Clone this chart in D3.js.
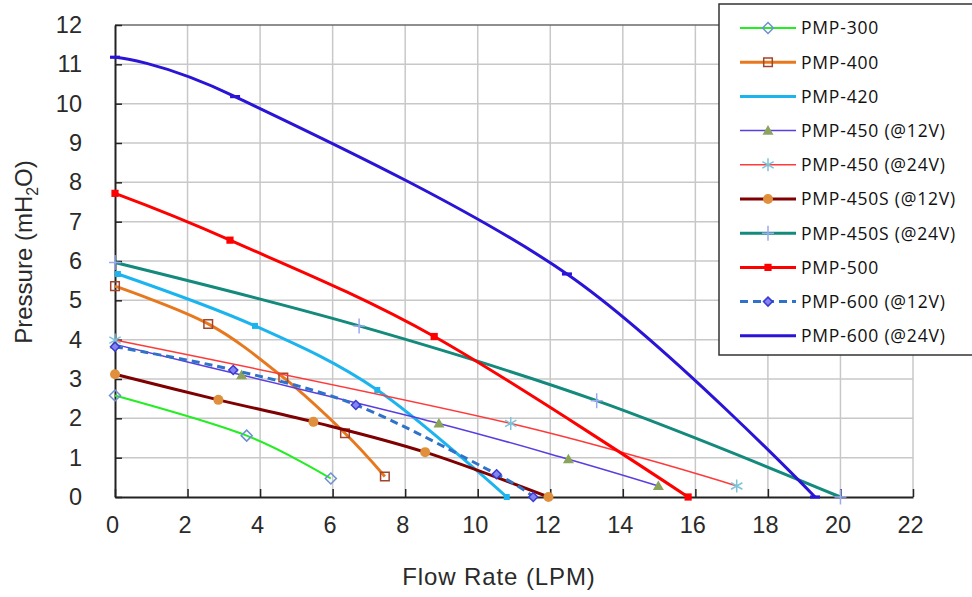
<!DOCTYPE html>
<html>
<head>
<meta charset="utf-8">
<script src="https://cdn.jsdelivr.net/npm/d3@7"></script>
<style>
  body { margin: 0; background: #fff; }
  svg { display: block; }
</style>
</head>
<body>
<div class="chart"></div>
<script>
// values (flow in LPM, pressure in mH2O)
const seriesNames = ['PMP-300', 'PMP-400', 'PMP-420', 'PMP-450 (@12V)', 'PMP-450 (@24V)',
  'PMP-450S (@12V)', 'PMP-450S (@24V)', 'PMP-500', 'PMP-600 (@12V)', 'PMP-600 (@24V)'];

const flow300 = [0, 3.63, 5.95];
const pres300 = [2.58, 1.56, 0.47];
const flow400 = [0, 2.57, 4.64, 6.34, 7.44];
const pres400 = [5.36, 4.4, 3.04, 1.62, 0.52];
const flow420 = [0.08, 3.86, 7.23, 10.8];
const pres420 = [5.67, 4.35, 2.72, 0];
const flow450_12 = [0, 3.49, 8.93, 12.5, 14.98];
const pres450_12 = [3.88, 3.1, 1.87, 0.96, 0.28];
const flow450_24 = [0, 10.91, 17.14];
const pres450_24 = [3.99, 1.87, 0.28];
const flow450S_12 = [0, 2.85, 5.47, 8.55, 11.95];
const pres450S_12 = [3.12, 2.47, 1.91, 1.14, 0];
const flow450S_24 = [0, 6.73, 13.28, 20];
const pres450S_24 = [5.96, 4.35, 2.45, 0];
const flow500 = [0, 3.17, 8.8, 15.8];
const pres500 = [7.72, 6.53, 4.08, 0];
const flow600_12 = [0, 3.26, 6.64, 10.52, 11.53];
const pres600_12 = [3.82, 3.23, 2.34, 0.58, 0];
const flow600_24 = [0, 3.31, 12.46, 19.3];
const pres600_24 = [11.18, 10.18, 5.67, 0];

const xTicks = [0, 2, 4, 6, 8, 10, 12, 14, 16, 18, 20, 22];
const yTicks = [0, 1, 2, 3, 4, 5, 6, 7, 8, 9, 10, 11, 12];

const flows = [flow300, flow400, flow420, flow450_12, flow450_24, flow450S_12, flow450S_24, flow500, flow600_12, flow600_24];
const pressures = [pres300, pres400, pres420, pres450_12, pres450_24, pres450S_12, pres450S_24, pres500, pres600_12, pres600_24];

// look of each series
const styles = [
  { color: '#22ee22', width: 2, marker: 'diamond', size: 5.5, fill: 'none', stroke: '#6f8fd0' },
  { color: '#e8781e', width: 3, marker: 'square', size: 4.3, fill: 'none', stroke: '#a2442c' },
  { color: '#1cb4ee', width: 3, marker: 'square', size: 3, fill: '#1cb4ee', stroke: 'none', noLegendMarker: true },
  { color: '#5a3ee0', width: 1.5, marker: 'triangle', size: 5.5, fill: '#8aa55a', stroke: 'none' },
  { color: '#ff3a3a', width: 1.5, marker: 'asterisk', size: 6.5, fill: 'none', stroke: '#7ec2da' },
  { color: '#7f0000', width: 3, marker: 'circle', size: 5, fill: '#e0903c', stroke: 'none' },
  { color: '#138a7c', width: 3, marker: 'plus', size: 7.5, fill: 'none', stroke: '#9aaaf0' },
  { color: '#ff0000', width: 3, marker: 'square', size: 3.6, fill: '#ff0000', stroke: 'none' },
  { color: '#2f72c8', width: 3, marker: 'diamond', size: 4.5, fill: '#8585f0', stroke: '#3a3ad0', dash: '8,5' },
  { color: '#2a14d6', width: 3, marker: 'dash', size: 5, fill: '#2a14d6', stroke: 'none', noLegendMarker: true },
];

const W = 972, H = 597;
const plot = { left: 115, right: 913, top: 25, bottom: 497 };

const svg = d3.select('.chart').append('svg')
  .attr('width', W)
  .attr('height', H)
  .style('font-family', '"Liberation Sans", Arial, sans-serif');

const x = d3.scaleLinear().domain([0, 22]).range([plot.left, plot.right]);
const y = d3.scaleLinear().domain([0, 12]).range([plot.bottom, plot.top]);

/* grid */
svg.append('g').selectAll('line')
  .data(xTicks.slice(1))
  .enter().append('line')
  .attr('x1', d => x(d)).attr('x2', d => x(d))
  .attr('y1', plot.top).attr('y2', plot.bottom)
  .attr('stroke', '#c8c8c8').attr('stroke-width', 1.5);

svg.append('g').selectAll('line')
  .data(yTicks.slice(1))
  .enter().append('line')
  .attr('x1', plot.left).attr('x2', plot.right)
  .attr('y1', d => y(d)).attr('y2', d => y(d))
  .attr('stroke', d => (d === 12 ? '#6a6a6a' : '#c8c8c8'))
  .attr('stroke-width', 1.5);

/* axes */
const xAxis = d3.axisBottom(x).tickValues(xTicks).tickSizeInner(-8).tickSizeOuter(0).tickPadding(19);
const yAxis = d3.axisLeft(y).tickValues(yTicks).tickSizeInner(-7).tickSizeOuter(0).tickPadding(33);

const xAxisGroup = svg.append('g')
  .attr('transform', `translate(0,${plot.bottom})`)
  .call(xAxis);
const yAxisGroup = svg.append('g')
  .attr('transform', `translate(${plot.left},0)`)
  .call(yAxis);

[xAxisGroup, yAxisGroup].forEach(g => {
  g.select('.domain').attr('stroke', '#222').attr('stroke-width', 2);
  g.selectAll('.tick line').attr('stroke', '#222').attr('stroke-width', 1.5);
  g.selectAll('.tick text')
    .attr('fill', '#2a2a2a')
    .style('font-family', '"Liberation Sans", Arial, sans-serif')
    .style('font-size', '23.5px');
});
xAxisGroup.selectAll('.tick text').attr('dx', -3);

svg.append('text')
  .attr('x', 499).attr('y', 585)
  .attr('text-anchor', 'middle')
  .attr('fill', '#2a2a2a')
  .style('font-size', '24px')
  .style('letter-spacing', '0.9px')
  .text('Flow Rate (LPM)');

const yLabel = svg.append('text')
  .attr('transform', 'translate(32,252) rotate(-90)')
  .attr('text-anchor', 'middle')
  .attr('fill', '#2a2a2a')
  .style('font-size', '24px');
yLabel.append('tspan').text('Pressure (mH');
yLabel.append('tspan').attr('dy', 6).style('font-size', '16px').text('2');
yLabel.append('tspan').attr('dy', -6).text('O)');

/* markers */
const markerPath = (type, r) => {
  switch (type) {
    case 'diamond': return `M0,${-r}L${r},0L0,${r}L${-r},0Z`;
    case 'square': return `M${-r},${-r}H${r}V${r}H${-r}Z`;
    case 'triangle': return `M0,${-r}L${r},${r * 0.75}L${-r},${r * 0.75}Z`;
    case 'circle': return d3.symbol(d3.symbolCircle, Math.PI * r * r)();
    case 'asterisk': {
      const a = r * 0.87, b = r * 0.5;
      return `M0,${-r}V${r}M${-a},${-b}L${a},${b}M${-a},${b}L${a},${-b}`;
    }
    case 'plus': return `M0,${-r}V${r}M${-r * 0.8},0H${r * 0.8}`;
    case 'dash': return `M${-r},-1.6H${r}V1.6H${-r}Z`;
    default: return '';
  }
};

const line = d3.line()
  .x(d => x(d[0]))
  .y(d => y(d[1]))
  .curve(d3.curveCardinal.tension(0));

const data = seriesNames.map((name, i) => ({
  name,
  style: styles[i],
  points: flows[i].map((f, j) => [f, pressures[i][j]]),
}));

const seriesGroups = svg.append('g').selectAll('g')
  .data(data)
  .enter().append('g');

seriesGroups.append('path')
  .attr('d', d => line(d.points))
  .attr('fill', 'none')
  .attr('stroke', d => d.style.color)
  .attr('stroke-width', d => d.style.width)
  .attr('stroke-dasharray', d => d.style.dash || null)
  .attr('stroke-linejoin', 'round');

seriesGroups.each(function (s) {
  d3.select(this).selectAll('path.mk')
    .data(s.points)
    .enter().append('path')
    .attr('class', 'mk')
    .attr('transform', d => `translate(${x(d[0])},${y(d[1])})`)
    .attr('d', markerPath(s.style.marker, s.style.size))
    .attr('fill', s.style.fill)
    .attr('stroke', s.style.stroke)
    .attr('stroke-width', 1.5);
});

/* legend */
const legend = svg.append('g');
legend.append('rect')
  .attr('x', 719).attr('y', 4)
  .attr('width', 262).attr('height', 351)
  .attr('fill', '#fff')
  .attr('stroke', '#333')
  .attr('stroke-width', 1.5);

const legendItems = legend.selectAll('g.item')
  .data(data)
  .enter().append('g')
  .attr('class', 'item')
  .attr('transform', (d, i) => `translate(0,${28 + i * 34.2})`);

legendItems.append('line')
  .attr('x1', 740).attr('x2', 796)
  .attr('stroke', d => d.style.color)
  .attr('stroke-width', d => d.style.width)
  .attr('stroke-dasharray', d => d.style.dash || null);

legendItems.filter(d => !d.style.noLegendMarker).append('path')
  .attr('transform', 'translate(768,0)')
  .attr('d', d => markerPath(d.style.marker, d.style.size))
  .attr('fill', d => d.style.fill)
  .attr('stroke', d => d.style.stroke)
  .attr('stroke-width', 1.5);

legendItems.append('text')
  .attr('x', 801)
  .attr('dy', '0.36em')
  .attr('fill', '#111')
  .style('font-family', '"Open Sans", "Noto Sans", sans-serif')
  .style('font-size', '17.5px')
  .style('letter-spacing', '0.8px')
  .text(d => d.name);
</script>
</body>
</html>
